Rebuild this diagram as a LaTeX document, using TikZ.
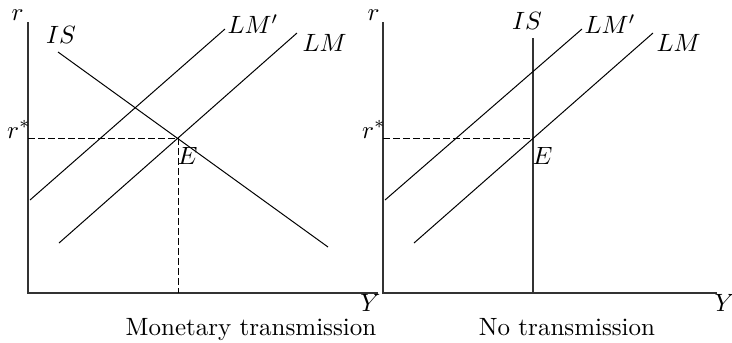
\documentclass[tikz,border=0pt]{standalone}
\begin{document}
\begin{tikzpicture}[x=0.4pt,y=-0.4pt,
  axis/.style={line width=0.5pt,draw=black!80},
  curve/.style={line width=0.4pt},
  guide/.style={line width=0.4pt,dash pattern=on 2.6pt off 1.4pt},
  lbl/.style={inner sep=0pt}]
\useasboundingbox (0,0) rectangle (732,342);
% ---------- left panel ----------
\coordinate (O1) at (28,293);
\coordinate (Ytop1) at (28,22);
\coordinate (Xend1) at (378,293);
\draw[axis] (Ytop1) -- (O1) -- (Xend1);
\coordinate (IS1a) at (58,52);
\coordinate (IS1b) at (328,247);
\coordinate (LMp1a) at (30,200);
\coordinate (LMp1b) at (225,29);
\coordinate (LM1a) at (59,243);
\coordinate (LM1b) at (297,33);
\coordinate (E1) at (178,138);
\coordinate (Ey1) at (28,138);
\coordinate (Ex1) at (178,293);
\draw[curve] (IS1a) -- (IS1b);
\draw[curve] (LMp1a) -- (LMp1b);
\draw[curve] (LM1a) -- (LM1b);
\draw[guide] (Ey1) -- (E1) -- (Ex1);
\node[lbl,anchor=base east] (r1) at (24,20) {$r$};
\node[lbl,anchor=base east] (rs1) at (31,138) {$r^*$};
\node[lbl] (ISl1) at (61,35) {$IS$};
\node[lbl,anchor=west] (LMpl1) at (227,24) {$LM'$};
\node[lbl,anchor=west] (LMl1) at (302,43) {$LM$};
\node[lbl,anchor=north west] (El1) at (177,147) {$E$};
\node[lbl,anchor=north east] (Yl1) at (381,294) {$Y$};
\node[lbl,anchor=base] (c1) at (251,335) {Monetary transmission};
% ---------- right panel ----------
\coordinate (O2) at (383,293);
\coordinate (Ytop2) at (383,22);
\coordinate (Xend2) at (717,293);
\draw[axis] (Ytop2) -- (O2) -- (Xend2);
\coordinate (IS2a) at (533,38);
\coordinate (IS2b) at (533,293);
\coordinate (LMp2a) at (385,200);
\coordinate (LMp2b) at (582,29);
\coordinate (LM2a) at (414,243);
\coordinate (LM2b) at (653,33);
\coordinate (E2) at (533,138);
\coordinate (Ey2) at (383,138);
\draw[axis] (IS2a) -- (IS2b);
\draw[curve] (LMp2a) -- (LMp2b);
\draw[curve] (LM2a) -- (LM2b);
\draw[guide] (Ey2) -- (E2);
\node[lbl,anchor=base east] (r2) at (380,20) {$r$};
\node[lbl,anchor=base east] (rs2) at (386,138) {$r^*$};
\node[lbl] (ISl2) at (527,21) {$IS$};
\node[lbl,anchor=west] (LMpl2) at (584,24) {$LM'$};
\node[lbl,anchor=west] (LMl2) at (656,43) {$LM$};
\node[lbl,anchor=north west] (El2) at (532,147) {$E$};
\node[lbl,anchor=north west] (Yl2) at (714,294) {$Y$};
\node[lbl,anchor=base] (c2) at (567,335) {No transmission};
\end{tikzpicture}
\end{document}
